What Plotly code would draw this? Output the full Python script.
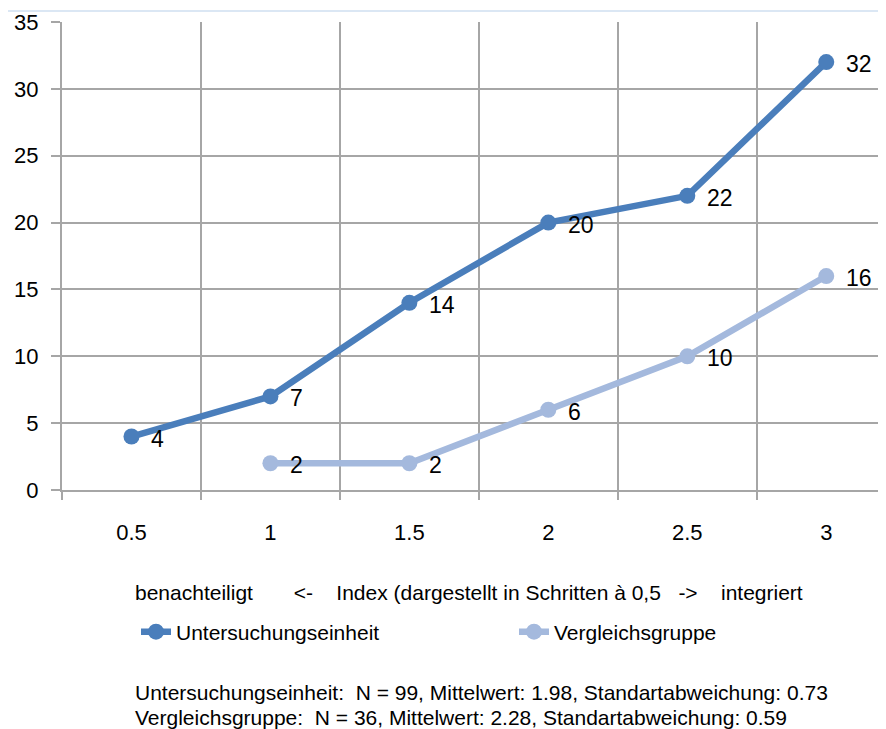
import plotly.graph_objects as go

categories = ["0.5", "1", "1.5", "2", "2.5", "3"]
untersuchung = [4, 7, 14, 20, 22, 32]
vergleich = [None, 2, 2, 6, 10, 16]
y_ticks = [0, 5, 10, 15, 20, 25, 30, 35]

DARK = "#4a7ebb"
LIGHT = "#a4b9dd"
GRID = "#a6a6a6"
FONT = "Liberation Sans, Arial, Helvetica, sans-serif"

# page is rendered with an 8px body margin, so the figure is sized 878x721
W, H = 878, 721
L, T, B = 54, 14, 239
PW = W - L          # plot width (824)
PH = H - T - B      # plot height (468)

xpos = list(range(len(categories)))

fig = go.Figure()
fig.add_trace(go.Scatter(
    x=xpos, y=untersuchung, mode="lines+markers", name="Untersuchungseinheit",
    line=dict(color=DARK, width=6.5), marker=dict(color=DARK, size=16),
    connectgaps=False, legend="legend",
))
fig.add_trace(go.Scatter(
    x=xpos, y=vergleich, mode="lines+markers", name="Vergleichsgruppe",
    line=dict(color=LIGHT, width=6.5), marker=dict(color=LIGHT, size=16),
    connectgaps=False, legend="legend2",
))

annotations = []
for series in (untersuchung, vergleich):
    for xi, v in zip(xpos, series):
        if v is None:
            continue
        annotations.append(dict(
            x=xi, y=v, xref="x", yref="y", text=str(v), showarrow=False,
            xanchor="left", yanchor="middle", xshift=18, yshift=-2,
            font=dict(family=FONT, size=23, color="#000000"),
        ))

bottom_texts = [
    ("benachteiligt&nbsp;&nbsp;&nbsp;&nbsp;&nbsp;&nbsp;&nbsp;&lt;-&nbsp;&nbsp;&nbsp;&nbsp;Index (dargestellt in Schritten à 0,5&nbsp;&nbsp;&nbsp;-&gt;&nbsp;&nbsp;&nbsp;&nbsp;integriert", -102),
    ("Untersuchungseinheit:&nbsp;&nbsp;N = 99, Mittelwert: 1.98, Standartabweichung: 0.73", -202),
    ("Vergleichsgruppe:&nbsp;&nbsp;N = 36, Mittelwert: 2.28, Standartabweichung: 0.59", -227),
]
for txt, ys in bottom_texts:
    annotations.append(dict(
        x=71 / PW, y=0, xref="paper", yref="paper", text=txt,
        showarrow=False, xanchor="left", yanchor="middle", yshift=ys,
        font=dict(family=FONT, size=21, color="#000000"),
    ))

legend_common = dict(
    orientation="h", xanchor="left", y=-142 / PH, yanchor="middle",
    font=dict(family=FONT, size=21, color="#000000"),
    bgcolor="rgba(0,0,0,0)", itemclick=False, itemdoubleclick=False,
)

fig.update_layout(
    width=W, height=H,
    margin=dict(l=L, r=0, t=T, b=B, autoexpand=False),
    paper_bgcolor="white", plot_bgcolor="white",
    font=dict(family=FONT, size=20, color="#000000"),
    showlegend=True,
    legend=dict(x=74 / PW, **legend_common),
    legend2=dict(x=452 / PW, **legend_common),
    annotations=annotations,
    shapes=[dict(
        type="line", xref="paper", yref="paper",
        x0=-L / PW, x1=1, y0=1 + 11 / PH, y1=1 + 11 / PH,
        line=dict(color="#cfdff0", width=1.5),
    )],
    xaxis=dict(
        range=[-0.5, 5.43], tickvals=xpos, ticktext=categories,
        showgrid=False, ticks="", zeroline=False, automargin=False,
        showline=True, linecolor=GRID, linewidth=2,
        ticklabelstandoff=22,
        tickfont=dict(family=FONT, size=22, color="#000000"),
        minor=dict(tickvals=[-0.5, 0.5, 1.5, 2.5, 3.5, 4.5], showgrid=True,
                   gridcolor=GRID, gridwidth=2, ticks="outside", ticklen=8,
                   tickcolor=GRID, tickwidth=2),
        fixedrange=True,
    ),
    yaxis=dict(
        range=[0, 35], tickvals=y_ticks, showgrid=True, gridcolor=GRID,
        gridwidth=2, zeroline=False, showline=True, linecolor=GRID,
        linewidth=2, ticks="outside", ticklen=9, tickcolor=GRID, tickwidth=2,
        ticklabelstandoff=8, automargin=False,
        tickfont=dict(family=FONT, size=22, color="#000000"),
        fixedrange=True,
    ),
)

fig.write_html("out.html")
